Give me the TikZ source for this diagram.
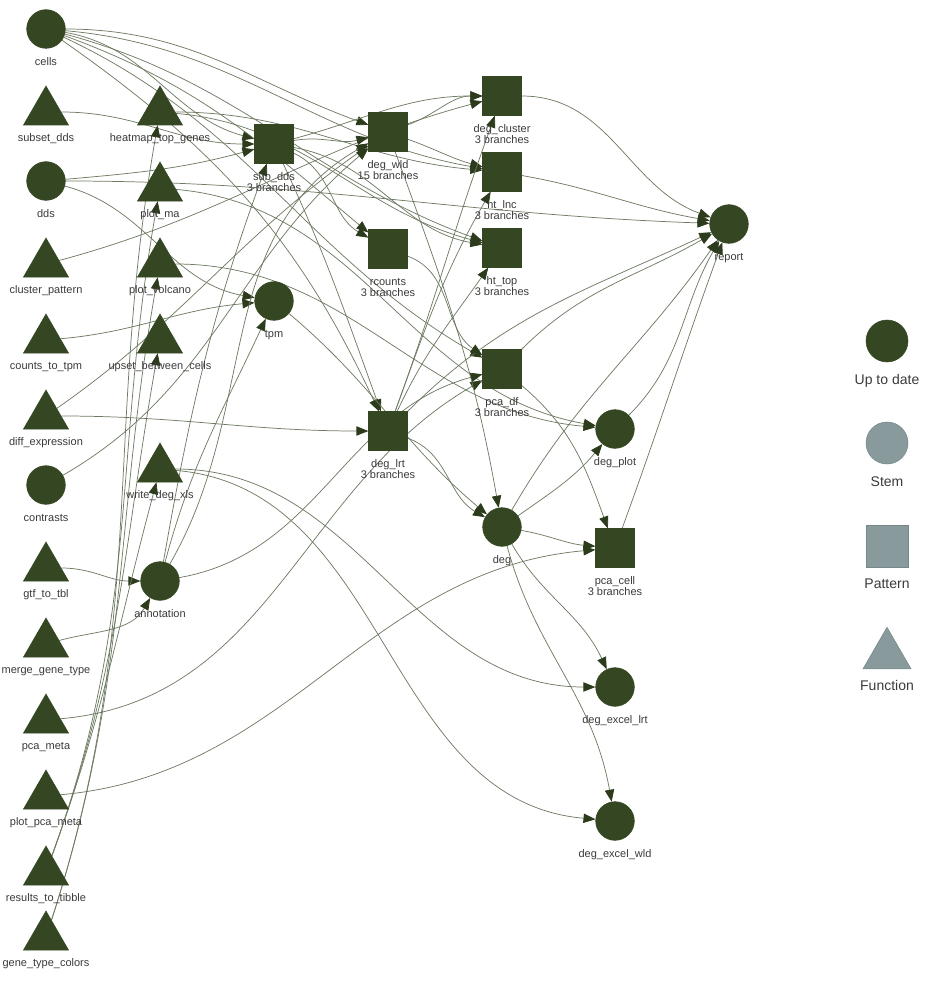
\documentclass[tikz,border=0pt]{standalone}
\usepackage{fontspec}
\setmainfont{Liberation Sans}
\usetikzlibrary{arrows.meta,shapes.geometric,backgrounds}
\definecolor{ng}{HTML}{354722}
\definecolor{eg}{HTML}{6E7B63}
\definecolor{ag}{HTML}{2C3B1B}
\definecolor{lg}{HTML}{899A9D}
\definecolor{lb}{HTML}{76878B}
\definecolor{tx}{HTML}{3A3A3A}
\newcommand{\NC}[4]{\node[crc] (#1) at (#2,-#3) {};\node[lbl] at (#2,-#3-36.5) {#4};}
\newcommand{\NT}[4]{\node[tri] (#1) at (#2,-#3-7) {};\node[lbl] at (#2,-#3-36.5) {#4};}
\newcommand{\NS}[5]{\node[sqr] (#1) at (#2,-#3) {};\node[lbl] at (#2,-#3-36.5) {#4};\node[lbl] at (#2,-#3-47.5) {#5};}
\begin{document}
\begin{tikzpicture}[x=0.75pt,y=0.75pt,
  crc/.style={circle,fill=ng,draw=ng,minimum size=29pt,inner sep=0pt},
  sqr/.style={rectangle,fill=ng,draw=ng,minimum size=29pt,inner sep=0pt},
  tri/.style={regular polygon,regular polygon sides=3,fill=ng,draw=ng,minimum size=39pt,inner sep=0pt},
  lbl/.style={font=\fontsize{8.25}{8.25}\selectfont,text=tx,anchor=base,inner sep=0pt},
  legtxt/.style={font=\fontsize{10.5}{10.5}\selectfont,text=tx,anchor=base,inner sep=0pt},
  e/.style={draw=eg,line width=0.55pt,-{Triangle[length=9pt,width=7pt,color=ag]}}]
\useasboundingbox (0,0) rectangle (939,-1002);
% column 1
\NC{cells}{46}{29}{cells}
\NT{subsetdds}{46}{105}{subset\_dds}
\NC{dds}{46}{181}{dds}
\NT{clusterpattern}{46}{257}{cluster\_pattern}
\NT{countstotpm}{46}{333}{counts\_to\_tpm}
\NT{diffexpr}{46}{409}{diff\_expression}
\NC{contrasts}{46}{485}{contrasts}
\NT{gtftotbl}{46}{561}{gtf\_to\_tbl}
\NT{mergegt}{46}{637}{merge\_gene\_type}
\NT{pcameta}{46}{713}{pca\_meta}
\NT{plotpcameta}{46}{789}{plot\_pca\_meta}
\NT{rtt}{46}{865}{results\_to\_tibble}
\NT{gtc}{46}{930}{gene\_type\_colors}
% column 2
\NT{htg}{160}{105}{heatmap\_top\_genes}
\NT{plotma}{160}{181}{plot\_ma}
\NT{plotvolc}{160}{257}{plot\_volcano}
\NT{upset}{160}{333}{upset\_between\_cells}
\NT{wdx}{160}{462}{write\_deg\_xls}
\NC{annot}{160}{581}{annotation}
% column 3
\NS{subdds}{274}{144}{sub\_dds}{3 branches}
\NC{tpm}{274}{301}{tpm}
% column 4
\NS{dwld}{388}{132}{deg\_wld}{15 branches}
\NS{rcounts}{388}{249}{rcounts}{3 branches}
\NS{dlrt}{388}{431}{deg\_lrt}{3 branches}
% column 5
\NS{dclust}{502}{96}{deg\_cluster}{3 branches}
\NS{htlnc}{502}{172}{ht\_lnc}{3 branches}
\NS{httop}{502}{248}{ht\_top}{3 branches}
\NS{pcadf}{502}{369}{pca\_df}{3 branches}
\NC{deg}{502}{527}{deg}
% column 6
\NC{degplot}{615}{429}{deg\_plot}
\NS{pcacell}{615}{548}{pca\_cell}{3 branches}
\NC{dxl}{615}{687}{deg\_excel\_lrt}
\NC{dxw}{615}{821}{deg\_excel\_wld}
\NC{report}{729}{224}{report}
% legend
\node[circle,fill=ng,draw=ng,minimum size=31.5pt,inner sep=0pt] (lu) at (887,-341) {};
\node[legtxt] at (887,-384) {Up to date};
\node[circle,fill=lg,draw=lb,minimum size=31.5pt,inner sep=0pt] (ls) at (887,-443) {};
\node[legtxt] at (887,-486) {Stem};
\node[rectangle,fill=lg,draw=lb,minimum size=31.5pt,inner sep=0pt] (lp) at (887,-546) {};
\node[legtxt] at (887,-588) {Pattern};
\node[regular polygon,regular polygon sides=3,fill=lg,draw=lb,minimum size=41.6pt,inner sep=0pt] (lf) at (887,-655) {};
\node[legtxt] at (887,-690) {Function};
\begin{scope}[on background layer]
\draw[e] (cells) to[out=-10,in=165] (subdds);
\draw[e] (cells) to[out=0,in=160] (dwld);
\draw[e] (cells) to[out=-5,in=170] (htlnc);
\draw[e] (cells) to[out=-15,in=160] (httop);
\draw[e] (cells) to[out=-20,in=140] (rcounts);
\draw[e] (cells) to[out=-35,in=115] (dlrt);
\draw[e] (cells) to[out=-25,in=150] (pcadf);
\draw[e] (subsetdds) to[out=0,in=180] (subdds);
\draw[e] (dds) to[out=5,in=195] (subdds);
\draw[e] (dds) to[out=-15,in=170] (tpm);
\draw[e] (dds) to[out=0,in=178] (report);
\draw[e] (clusterpattern) to[out=15,in=195] (dclust);
\draw[e] (countstotpm) to[out=5,in=185] (tpm);
\draw[e] (diffexpr) to[out=0,in=180] (dlrt);
\draw[e] (diffexpr) to[out=35,in=215] (dwld);
\draw[e] (contrasts) to[out=30,in=220] (dwld);
\draw[e] (gtftotbl) to[out=0,in=180] (annot);
\draw[e] (mergegt) to[out=15,in=-120] (annot);
\draw[e] (pcameta) to[out=5,in=210] (pcadf);
\draw[e] (plotpcameta) to[out=5,in=185] (pcacell);
\draw[e] (rtt) to[out=70,in=-100] (plotma);
\draw[e] (rtt) to[out=70,in=-100] (upset);
\draw[e] (rtt) to[out=70,in=-105] (wdx);
\draw[e] (gtc) to[out=72,in=-100] (htg);
\draw[e] (gtc) to[out=72,in=-100] (plotvolc);
\draw[e] (htg) to[out=0,in=175] (htlnc);
\draw[e] (htg) to[out=-5,in=165] (httop);
\draw[e] (plotma) to[out=-5,in=170] (degplot);
\draw[e] (plotvolc) to[out=0,in=175] (degplot);
\draw[e] (wdx) to[out=0,in=180] (dxl);
\draw[e] (wdx) to[out=-5,in=175] (dxw);
\draw[e] (annot) to[out=80,in=-110] (subdds);
\draw[e] (annot) to[out=75,in=-115] (tpm);
\draw[e] (annot) to[out=60,in=210] (dwld);
\draw[e] (annot) to[out=10,in=195] (pcadf);
\draw[e] (subdds) to[out=10,in=195] (dwld);
\draw[e] (subdds) to[out=-65,in=110] (dlrt);
\draw[e] (subdds) to[out=-25,in=150] (rcounts);
\draw[e] (subdds) to[out=-10,in=170] (httop);
\draw[e] (subdds) to[out=15,in=180] (dclust);
\draw[e] (tpm) to[out=-40,in=140] (deg);
\draw[e] (dwld) to[out=-70,in=100] (deg);
\draw[e] (dwld) to[out=20,in=180] (dclust);
\draw[e] (dwld) to[out=-20,in=165] (htlnc);
\draw[e] (dlrt) to[out=-20,in=150] (deg);
\draw[e] (dlrt) to[out=70,in=-110] (dclust);
\draw[e] (dlrt) to[out=70,in=-120] (htlnc);
\draw[e] (dlrt) to[out=65,in=-125] (httop);
\draw[e] (dlrt) to[out=45,in=205] (report);
\draw[e] (rcounts) to[out=-20,in=145] (pcadf);
\draw[e] (deg) to[out=35,in=-130] (degplot);
\draw[e] (deg) to[out=-10,in=175] (pcacell);
\draw[e] (deg) to[out=-60,in=115] (dxl);
\draw[e] (deg) to[out=-75,in=100] (dxw);
\draw[e] (deg) to[out=60,in=235] (report);
\draw[e] (pcadf) to[out=-40,in=110] (pcacell);
\draw[e] (pcadf) to[out=45,in=210] (report);
\draw[e] (dclust) to[out=0,in=160] (report);
\draw[e] (htlnc) to[out=-10,in=170] (report);
\draw[e] (degplot) to[out=45,in=240] (report);
\draw[e] (pcacell) to[out=70,in=250] (report);
\end{scope}
\end{tikzpicture}
\end{document}
